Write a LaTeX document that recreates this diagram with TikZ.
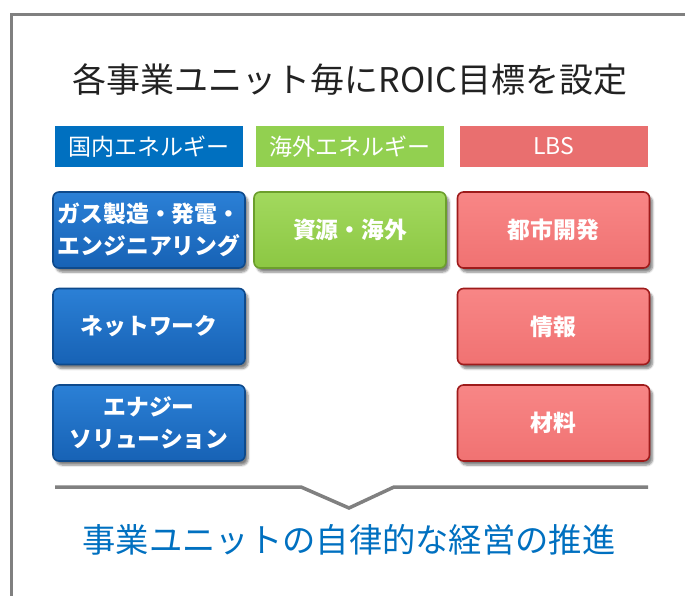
\documentclass[tikz,border=0pt]{standalone}
\usepackage{fontspec}
\setmainfont{Noto Sans CJK JP}
\usetikzlibrary{shadows.blur}
\definecolor{hblue}{HTML}{0070C0}
\definecolor{hgreen}{HTML}{92D050}
\definecolor{hred}{HTML}{E96F6F}
\definecolor{bblueT}{HTML}{2B80D6}
\definecolor{bblueB}{HTML}{1762B5}
\definecolor{bblueD}{HTML}{0E4A8C}
\definecolor{bgreenT}{HTML}{A2D95E}
\definecolor{bgreenB}{HTML}{8CC743}
\definecolor{bgreenD}{HTML}{6C9F2C}
\definecolor{bredT}{HTML}{F88686}
\definecolor{bredB}{HTML}{F07272}
\definecolor{bredD}{HTML}{9E1B1B}
\definecolor{framegray}{HTML}{808080}
\tikzset{
  header/.style={minimum width=188pt, minimum height=41pt, inner sep=0pt, text=white, font=\fontsize{23}{26}\selectfont},
  unitbox/.style={rounded corners=6pt, minimum width=192pt, minimum height=76pt, inner sep=0pt, align=center, text=white,
    font=\fontsize{22.8}{32}\selectfont\bfseries, line width=1.6pt,
    blur shadow={shadow xshift=3pt, shadow yshift=-4pt, shadow blur steps=6, shadow opacity=50}},
  bluebox/.style={unitbox, draw=bblueD, top color=bblueT, bottom color=bblueB},
  greenbox/.style={unitbox, draw=bgreenD, top color=bgreenT, bottom color=bgreenB},
  redbox/.style={unitbox, draw=bredD, top color=bredT, bottom color=bredB},
}
\begin{document}
\begin{tikzpicture}[x=1pt,y=-1pt]
\useasboundingbox (0,0) rectangle (685,596);
\begin{scope}
\clip (0,0) rectangle (685,596);
\draw[framegray, line width=3pt] (11,620) -- (11,15) -- (700,15);
\end{scope}
\node (title) at (350,80) {\fontsize{34}{38}\selectfont\color[HTML]{222222}各事業ユニット毎にROIC目標を設定};
\node[header, fill=hblue] (h1) at (149,146.5) {国内エネルギー};
\node[header, fill=hgreen] (h2) at (350,146.5) {海外エネルギー};
\node[header, fill=hred] (h3) at (553.5,146.5) {LBS};
\node[bluebox] (b1) at (149,230) {ガス製造・発電・\\エンジニアリング};
\node[bluebox] (b2) at (149,326.5) {ネットワーク};
\node[bluebox] (b3) at (149,423) {エナジー\\ソリューション};
\node[greenbox] (g1) at (350,230) {資源・海外};
\node[redbox] (r1) at (553.5,230) {都市開発};
\node[redbox] (r2) at (553.5,326.5) {情報};
\node[redbox] (r3) at (553.5,423) {材料};
\coordinate (l0) at (55,487);
\coordinate (l1) at (301,487);
\coordinate (l2) at (349,508);
\coordinate (l3) at (394,487);
\coordinate (l4) at (648,487);
\draw[framegray, line width=3.5pt] (l0) -- (l1) -- (l2) -- (l3) -- (l4);
\node[text=hblue] (bottom) at (349,540) {\fontsize{33.3}{38}\selectfont 事業ユニットの自律的な経営の推進};
\end{tikzpicture}
\end{document}
